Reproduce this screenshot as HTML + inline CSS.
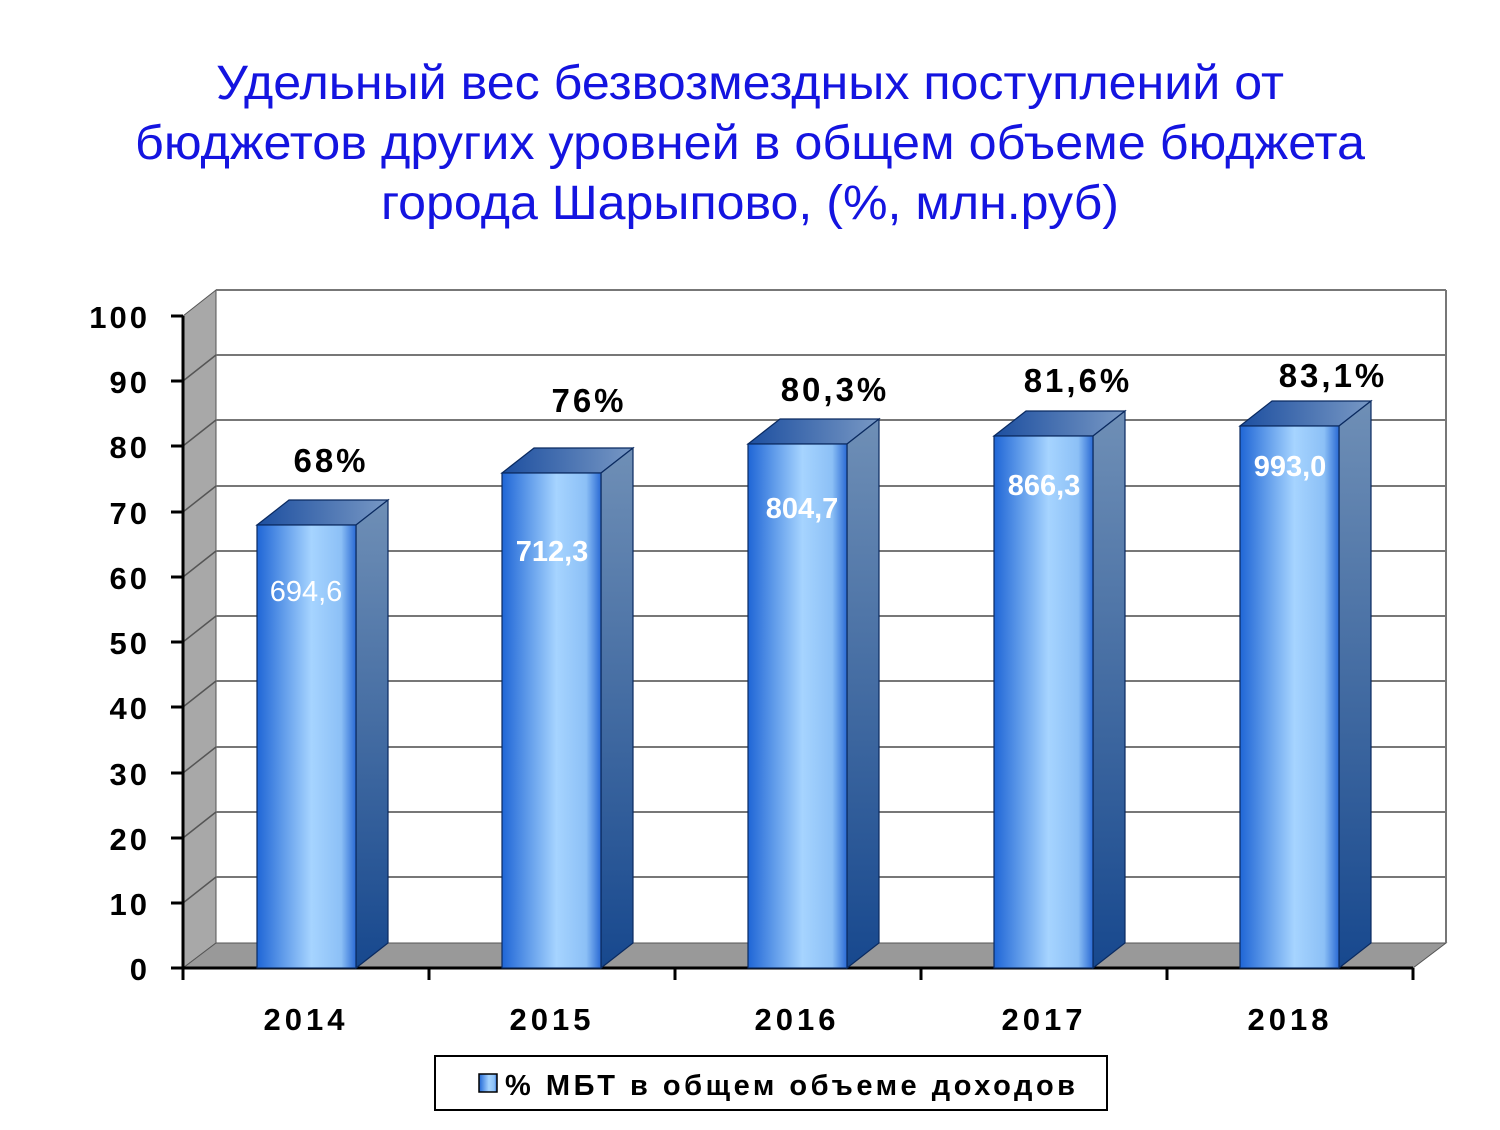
<!DOCTYPE html><html><head><style>body{margin:0;background:#fff}</style></head><body>
<svg width="1500" height="1125" xmlns="http://www.w3.org/2000/svg" font-family="Liberation Sans, sans-serif">
<defs>
<linearGradient id="fr" x1="0" x2="1" y1="0" y2="0"><stop offset="0" stop-color="#1f66d6"/><stop offset="0.55" stop-color="#a6d4ff"/><stop offset="0.85" stop-color="#8cc0f6"/><stop offset="1" stop-color="#2a6ad4"/></linearGradient>
<linearGradient id="sd" x1="0" x2="0" y1="0" y2="1"><stop offset="0" stop-color="#6f8fb6"/><stop offset="1" stop-color="#17488e"/></linearGradient>
<linearGradient id="tp" x1="0" x2="1" y1="0" y2="0"><stop offset="0" stop-color="#1d4fa0"/><stop offset="1" stop-color="#7898c4"/></linearGradient>
</defs>
<g fill="#1414e0" font-size="48" text-anchor="middle">
<text x="750" y="99" textLength="1068" lengthAdjust="spacingAndGlyphs">Удельный вес безвозмездных поступлений от</text>
<text x="750" y="159" textLength="1230" lengthAdjust="spacingAndGlyphs">бюджетов других уровней в общем объеме бюджета</text>
<text x="750" y="219" textLength="738" lengthAdjust="spacingAndGlyphs">города Шарыпово, (%, млн.руб)</text>
</g>
<polygon points="183,316 216,290 216,943 183,968" fill="#a8a8a8" stroke="#555" stroke-width="1"/>
<polygon points="183,968 216,943 1446,943 1413,968" fill="#999" stroke="#555" stroke-width="1"/>
<g stroke="#777" stroke-width="2">
<line x1="216" y1="290" x2="1446" y2="290"/><line x1="216" y1="355" x2="1446" y2="355"/><line x1="216" y1="420" x2="1446" y2="420"/><line x1="216" y1="486" x2="1446" y2="486"/><line x1="216" y1="551" x2="1446" y2="551"/><line x1="216" y1="616" x2="1446" y2="616"/><line x1="216" y1="681" x2="1446" y2="681"/><line x1="216" y1="747" x2="1446" y2="747"/><line x1="216" y1="812" x2="1446" y2="812"/><line x1="216" y1="877" x2="1446" y2="877"/>
<line x1="1446" y1="290" x2="1446" y2="943"/>
</g>
<g stroke="#555" stroke-width="1.5">
<line x1="183" y1="381" x2="216" y2="355"/><line x1="183" y1="446" x2="216" y2="420"/><line x1="183" y1="512" x2="216" y2="486"/><line x1="183" y1="577" x2="216" y2="551"/><line x1="183" y1="642" x2="216" y2="616"/><line x1="183" y1="707" x2="216" y2="681"/><line x1="183" y1="773" x2="216" y2="747"/><line x1="183" y1="838" x2="216" y2="812"/><line x1="183" y1="903" x2="216" y2="877"/>
</g>
<g stroke="#000" stroke-width="3">
<line x1="183" y1="316" x2="183" y2="968"/><line x1="183" y1="968" x2="1413" y2="968"/>
<line x1="171" y1="316" x2="183" y2="316"/><line x1="171" y1="381" x2="183" y2="381"/><line x1="171" y1="446" x2="183" y2="446"/><line x1="171" y1="512" x2="183" y2="512"/><line x1="171" y1="577" x2="183" y2="577"/><line x1="171" y1="642" x2="183" y2="642"/><line x1="171" y1="707" x2="183" y2="707"/><line x1="171" y1="773" x2="183" y2="773"/><line x1="171" y1="838" x2="183" y2="838"/><line x1="171" y1="903" x2="183" y2="903"/><line x1="171" y1="968" x2="183" y2="968"/>
<line x1="183" y1="968" x2="183" y2="980"/><line x1="429" y1="968" x2="429" y2="980"/><line x1="675" y1="968" x2="675" y2="980"/><line x1="921" y1="968" x2="921" y2="980"/><line x1="1167" y1="968" x2="1167" y2="980"/><line x1="1413" y1="968" x2="1413" y2="980"/>
</g>
<g font-size="31" font-weight="bold" text-anchor="end" letter-spacing="3">
<text x="150" y="328">100</text><text x="150" y="393">90</text><text x="150" y="458">80</text><text x="150" y="524">70</text><text x="150" y="589">60</text><text x="150" y="654">50</text><text x="150" y="719">40</text><text x="150" y="785">30</text><text x="150" y="850">20</text><text x="150" y="915">10</text><text x="150" y="980">0</text>
</g>
<g stroke="#0a2a60" stroke-width="1.2">
<g><polygon points="257,525 289,500 388,500 356,525" fill="url(#tp)"/><polygon points="356,525 388,500 388,943 356,968" fill="url(#sd)"/><rect x="257" y="525" width="99" height="443" fill="url(#fr)"/></g>
<g><polygon points="502,473 534,448 633,448 601,473" fill="url(#tp)"/><polygon points="601,473 633,448 633,943 601,968" fill="url(#sd)"/><rect x="502" y="473" width="99" height="495" fill="url(#fr)"/></g>
<g><polygon points="748,444 780,419 879,419 847,444" fill="url(#tp)"/><polygon points="847,444 879,419 879,943 847,968" fill="url(#sd)"/><rect x="748" y="444" width="99" height="524" fill="url(#fr)"/></g>
<g><polygon points="994,436 1026,411 1125,411 1093,436" fill="url(#tp)"/><polygon points="1093,436 1125,411 1125,943 1093,968" fill="url(#sd)"/><rect x="994" y="436" width="99" height="532" fill="url(#fr)"/></g>
<g><polygon points="1240,426 1272,401 1371,401 1339,426" fill="url(#tp)"/><polygon points="1339,426 1371,401 1371,943 1339,968" fill="url(#sd)"/><rect x="1240" y="426" width="99" height="542" fill="url(#fr)"/></g>
</g>
<g font-size="33" font-weight="bold" text-anchor="middle" letter-spacing="3">
<text x="331" y="472">68%</text><text x="589" y="412">76%</text><text x="835" y="401">80,3%</text><text x="1078" y="392">81,6%</text><text x="1333" y="387">83,1%</text>
</g>
<g font-size="29" fill="#fff" text-anchor="middle">
<text x="306" y="601">694,6</text>
<text x="552" y="561" font-weight="bold">712,3</text><text x="802" y="518" font-weight="bold">804,7</text><text x="1044" y="495" font-weight="bold">866,3</text><text x="1290" y="476" font-weight="bold">993,0</text>
</g>
<g font-size="31" font-weight="bold" text-anchor="middle" letter-spacing="4">
<text x="306" y="1030">2014</text><text x="552" y="1030">2015</text><text x="797" y="1030">2016</text><text x="1044" y="1030">2017</text><text x="1290" y="1030">2018</text>
</g>
<rect x="435" y="1056" width="672" height="54" fill="#fff" stroke="#000" stroke-width="2"/>
<rect x="479" y="1074" width="18" height="18" fill="url(#fr)" stroke="#000" stroke-width="1.5"/>
<text x="505" y="1095" font-size="29" font-weight="bold" textLength="570" lengthAdjust="spacing">%  МБТ в общем объеме доходов</text>
</svg>
</body></html>
